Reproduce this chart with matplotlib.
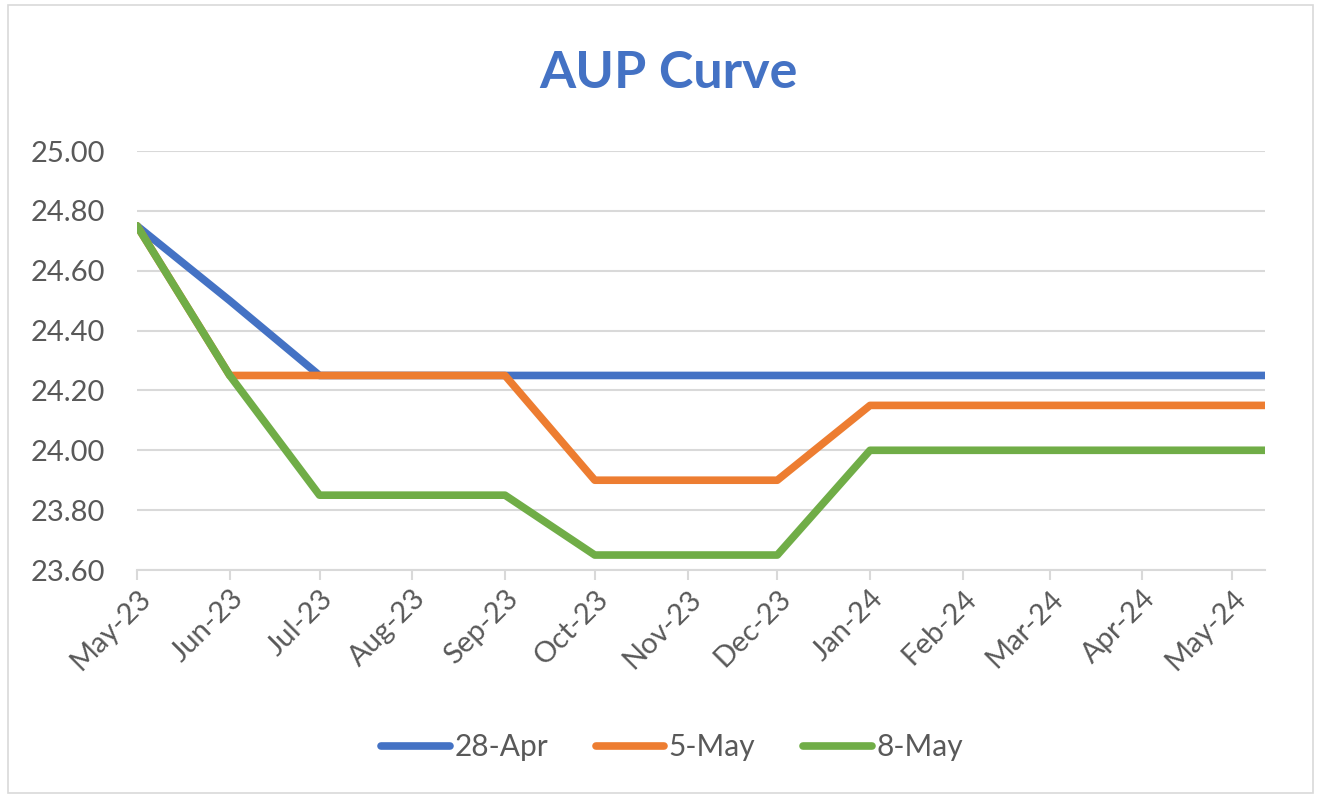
import pandas as pd
import matplotlib.pyplot as plt
import matplotlib.dates as mdates
from matplotlib.patches import Rectangle

# Data
dates = pd.to_datetime(['2023-05-01', '2023-06-01', '2023-07-01', '2023-08-01',
                        '2023-09-01', '2023-10-01', '2023-11-01', '2023-12-01',
                        '2024-01-01', '2024-02-01', '2024-03-01', '2024-04-01',
                        '2024-05-01', '2024-05-12'])
apr28 = [24.75, 24.50, 24.25, 24.25, 24.25, 24.25, 24.25, 24.25,
         24.25, 24.25, 24.25, 24.25, 24.25, 24.25]
may5 = [24.75, 24.25, 24.25, 24.25, 24.25, 23.90, 23.90, 23.90,
        24.15, 24.15, 24.15, 24.15, 24.15, 24.15]
may8 = [24.75, 24.25, 23.85, 23.85, 23.85, 23.65, 23.65, 23.65,
        24.00, 24.00, 24.00, 24.00, 24.00, 24.00]
series = [('28-Apr', apr28, '#4472C4'),
          ('5-May', may5, '#ED7D31'),
          ('8-May', may8, '#70AD47')]

plt.rcParams['font.family'] = ['Lato', 'DejaVu Sans']
txt = '#595959'
grid = '#D9D9D9'

fig = plt.figure(figsize=(13.21, 7.98), dpi=100)
ax = fig.add_axes([137 / 1321, 1 - 570 / 798, (1265 - 137) / 1321, (570 - 151) / 798])

for name, vals, col in series:
    ax.plot(dates, vals, color=col, lw=5.5, solid_capstyle='round',
            solid_joinstyle='round', label=name, zorder=3)

ax.set_ylim(23.60, 25.00)
ax.set_yticks([23.6 + 0.2 * i for i in range(8)])
ax.yaxis.set_major_formatter(plt.FuncFormatter(lambda v, p: f'{v:.2f}'))
ax.set_xlim(dates[0], dates[-1])
ax.xaxis.set_major_locator(mdates.MonthLocator())
ax.xaxis.set_major_formatter(mdates.DateFormatter('%b-%y'))

ax.grid(axis='y', color=grid, lw=1.5, zorder=0)
for s in ['top', 'right', 'left']:
    ax.spines[s].set_visible(False)
ax.spines['bottom'].set_color(grid)
ax.spines['bottom'].set_linewidth(1.5)
ax.tick_params(axis='y', length=0, labelsize=21, labelcolor=txt, pad=23)
ax.tick_params(axis='x', length=7, width=1.5, color=grid, labelsize=21,
               labelcolor=txt, pad=4)
for lab in ax.get_xticklabels():
    lab.set_rotation(45)
    lab.set_ha('right')
    lab.set_rotation_mode('anchor')

fig.text(668 / 1321, 1 - 74 / 798, 'AUP Curve', ha='center', va='center',
         fontsize=37.5, fontweight='bold', color='#4472C4')

fig.legend(loc='center', bbox_to_anchor=(672 / 1321, 1 - 747 / 798), ncol=3,
           frameon=False, fontsize=21.5, labelcolor=txt, handlelength=2.3,
           handletextpad=0.15, columnspacing=1.6)

fig.patches.append(Rectangle((8 / 1321, 5 / 798), 1 - 16 / 1321, 1 - 10 / 798,
                             transform=fig.transFigure, fill=False,
                             edgecolor=grid, lw=1.2))

fig.savefig('out.png', dpi=100)
